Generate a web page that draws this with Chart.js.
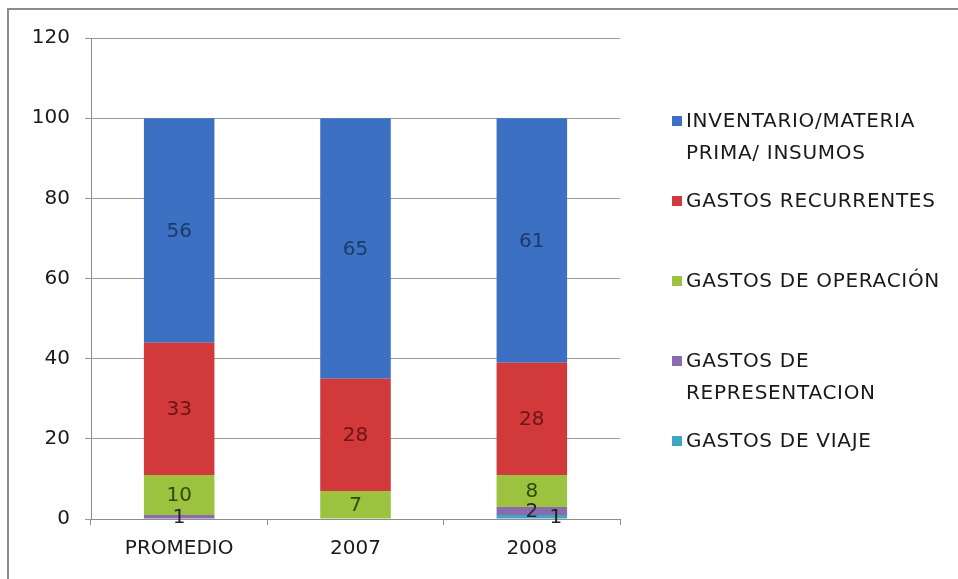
<!DOCTYPE html>
<html>
<head>
<meta charset="utf-8">
<script src="https://cdn.jsdelivr.net/npm/chart.js@4.4.0/dist/chart.umd.min.js"></script>
<style>
  html, body { margin: 0; padding: 0; background: #fff; overflow: hidden; }
  #wrap { position: relative; width: 958px; height: 579px; overflow: hidden; }
  .edge { position: absolute; background: #8c8c8c; }
  canvas { position: absolute; left: 0; top: 0; }
  #legend { position: absolute; left: 672px; top: 0; width: 280px;
            font-family: "DejaVu Sans", sans-serif; font-size: 20px; color: #1a1a1a; letter-spacing: 0.7px; }
  .legend-item { position: absolute; left: 0; width: 276px; line-height: 32px; display: flex; }
  .legend-box { flex: 0 0 10px; width: 10px; height: 10px; margin-top: 12px; margin-right: 4px; }
  .legend-text { width: 262px; }
</style>
</head>
<body>
<div id="wrap">
  <div class="edge" style="left:7px; top:8px; width:951px; height:2px;"></div>
  <div class="edge" style="left:7px; top:8px; width:2px; height:571px;"></div>
  <canvas id="chart" width="958" height="579"></canvas>
  <div id="legend"></div>
</div>
<script>
// categories and values (stack order: bottom first)
const categories = ['PROMEDIO', '2007', '2008'];
const seriesNames = ['GASTOS DE VIAJE', 'GASTOS DE REPRESENTACION', 'GASTOS DE OPERACIÓN', 'GASTOS RECURRENTES', 'INVENTARIO/MATERIA PRIMA/ INSUMOS'];
const viaje = [0, 0, 1];
const representacion = [1, 0, 2];
const operacion = [10, 7, 8];
const recurrentes = [33, 28, 28];
const inventario = [56, 65, 61];
const yTicks = [0, 20, 40, 60, 80, 100, 120];

const seriesValues = [viaje, representacion, operacion, recurrentes, inventario];
const fillColors = ['#3fa6c2', '#8a6bb0', '#9cc23f', '#d2393a', '#3b70c2'];
const labelColors = ['#222', '#2a1f3a', '#2f4a0c', '#6e1412', '#1e3a6b'];

const FONT = { family: '"DejaVu Sans", sans-serif', size: 20 };

// draws the value in the middle of every segment, nudging small overlapping ones aside
const segmentLabels = {
  id: 'segmentLabels',
  afterDatasetsDraw(chart) {
    const ctx = chart.ctx;
    ctx.save();
    ctx.font = '20px "DejaVu Sans", sans-serif';
    ctx.textAlign = 'center';
    ctx.textBaseline = 'middle';
    const lastY = {};
    for (let d = chart.data.datasets.length - 1; d >= 0; d--) {
      const meta = chart.getDatasetMeta(d);
      meta.data.forEach((bar, i) => {
        const v = chart.data.datasets[d].data[i];
        if (!v) return;
        let x = bar.x;
        const y = (bar.y + bar.base) / 2;
        if (lastY[i] !== undefined && Math.abs(lastY[i] - y) < 14) x += 24;
        lastY[i] = y;
        ctx.fillStyle = labelColors[d];
        ctx.fillText(String(v), x, y + 1);
      });
    }
    ctx.restore();
  }
};

new Chart(document.getElementById('chart').getContext('2d'), {
  type: 'bar',
  data: {
    labels: categories,
    datasets: seriesValues.map((vals, i) => ({
      label: seriesNames[i],
      data: vals,
      backgroundColor: fillColors[i],
      borderWidth: 0,
      categoryPercentage: 1,
      barPercentage: 0.4
    }))
  },
  options: {
    responsive: false,
    animation: false,
    layout: { padding: { top: 38, left: 0, right: 338, bottom: 0 } },
    plugins: { legend: { display: false }, tooltip: { enabled: false } },
    scales: {
      x: {
        stacked: true,
        afterFit: s => { s.height = 60; },
        grid: { offset: true, drawOnChartArea: false, tickLength: 6, color: '#8c8c8c' },
        border: { color: '#8c8c8c' },
        ticks: { color: '#1a1a1a', font: FONT, padding: 12 }
      },
      y: {
        stacked: true,
        min: 0,
        max: 120,
        afterFit: s => { s.width = 91; },
        afterBuildTicks: s => { s.ticks = yTicks.map(v => ({ value: v })); },
        grid: { color: '#9a9a9a', tickLength: 6 },
        border: { color: '#8c8c8c' },
        ticks: { color: '#1a1a1a', font: FONT, padding: 15 }
      }
    }
  },
  plugins: [segmentLabels]
});

// legend on the right, listed top of stack first
const legendEl = document.getElementById('legend');
legendEl.innerHTML = seriesNames.map((name, i) => {
  const k = seriesNames.length - 1 - i;
  return `
    <div class="legend-item" style="top:${104 + i * 80}px">
      <div class="legend-box" style="background:${fillColors[k]}"></div>
      <div class="legend-text">${seriesNames[k]}</div>
    </div>`;
}).join('');
</script>
</body>
</html>
